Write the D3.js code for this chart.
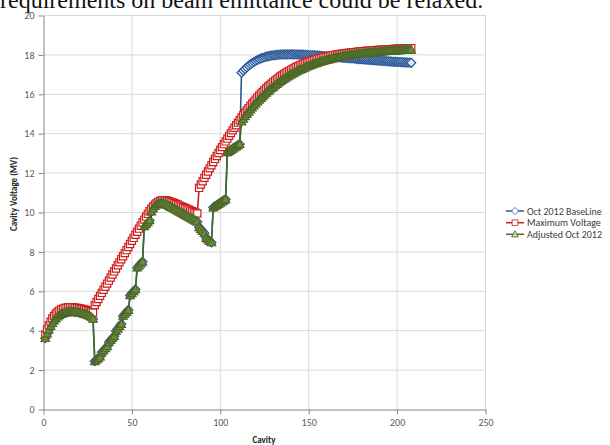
<!DOCTYPE html>
<html>
<head>
<meta charset="utf-8">
<script src="https://cdn.jsdelivr.net/npm/d3@7"></script>
<style>
  body { margin: 0; background: #fff; }
  svg { display: block; }
</style>
</head>
<body>
<div id="viz"></div>
<script>
// cavity index along the linac
var cavity = d3.range(1, 209);

// Maximum Voltage (MV), cavities 1..208
var maxVoltage = [
  3.80, 4.05, 4.27, 4.46, 4.62, 4.75, 4.86, 4.95, 5.02, 5.08,
  5.12, 5.15, 5.17, 5.18, 5.19, 5.19, 5.18, 5.17, 5.16, 5.14,
  5.12, 5.10, 5.08, 5.05, 5.02, 4.99, 4.96, 4.92,
  5.30, 5.46, 5.61, 5.77, 5.92, 6.08, 6.23, 6.39, 6.54, 6.70,
  6.85, 7.01, 7.16, 7.32, 7.47, 7.63, 7.78, 7.94, 8.09, 8.25,
  8.40, 8.56, 8.71, 8.87, 9.02, 9.18, 9.33, 9.49, 9.64, 9.79,
  9.93, 10.06, 10.18, 10.29, 10.39, 10.47, 10.54, 10.59, 10.62, 10.63,
  10.62, 10.60, 10.57, 10.54, 10.51, 10.47, 10.43, 10.39, 10.35, 10.31,
  10.27, 10.23, 10.19, 10.15, 10.11, 10.07, 10.03, 9.99, 9.95,
  11.25, 11.42, 11.59, 11.76, 11.92, 12.08, 12.24, 12.40, 12.56, 12.72,
  12.87, 13.02, 13.17, 13.32, 13.47, 13.61, 13.75, 13.89, 14.03, 14.17,
  14.30, 14.43, 14.56, 14.69, 14.82, 14.94, 15.06, 15.18, 15.30, 15.41,
  15.52, 15.63, 15.73, 15.83, 15.93, 16.03, 16.12, 16.21, 16.30, 16.38,
  16.46, 16.54, 16.62, 16.69, 16.76, 16.83, 16.90, 16.96, 17.02, 17.08,
  17.14, 17.19, 17.24, 17.29, 17.34, 17.39, 17.43, 17.47, 17.51, 17.55,
  17.59, 17.62, 17.65, 17.68, 17.71, 17.74, 17.77, 17.80, 17.82, 17.84,
  17.87, 17.89, 17.91, 17.93, 17.95, 17.97, 17.99, 18.00, 18.02, 18.03,
  18.05, 18.06, 18.07, 18.09, 18.10, 18.11, 18.12, 18.13, 18.14, 18.15,
  18.16, 18.17, 18.18, 18.19, 18.20, 18.20, 18.21, 18.22, 18.23, 18.23,
  18.24, 18.25, 18.25, 18.26, 18.27, 18.27, 18.28, 18.28, 18.29, 18.29,
  18.30, 18.30, 18.31, 18.31, 18.32, 18.32, 18.33, 18.33, 18.33, 18.34,
  18.34
];

// Adjusted Oct 2012 (MV), cavities 1..208
var adjusted = [
  3.62, 3.85, 4.05, 4.23, 4.38, 4.51, 4.62, 4.71, 4.78, 4.84,
  4.88, 4.92, 4.94, 4.96, 4.97, 4.97, 4.97, 4.96, 4.95, 4.93,
  4.91, 4.89, 4.86, 4.83, 4.79, 4.75, 4.70, 4.60,
  2.45, 2.52, 2.60, 2.68, 2.90, 3.00, 3.10, 3.20, 3.42, 3.52,
  3.62, 3.72, 3.98, 4.10, 4.22, 4.34, 4.75, 4.85, 4.95, 5.05,
  5.80, 5.90, 6.00, 6.10, 7.20, 7.30, 7.40, 7.50, 9.30, 9.40,
  9.50, 9.60,
  10.05, 10.20, 10.32, 10.40, 10.45, 10.47, 10.47, 10.45, 10.42, 10.38,
  10.33, 10.28, 10.23, 10.18, 10.13, 10.08, 10.03, 9.98, 9.93, 9.88,
  9.83, 9.78, 9.73, 9.68, 9.63, 9.58, 9.53,
  9.25, 9.15, 9.05, 8.95, 8.70, 8.62, 8.55, 8.48,
  10.25, 10.31, 10.37, 10.43, 10.49, 10.55, 10.61, 10.67,
  13.05, 13.11, 13.17, 13.23, 13.29, 13.35, 13.41, 13.47,
  14.62, 14.75, 14.88, 15.00, 15.11, 15.22, 15.33, 15.43, 15.53, 15.63,
  15.72, 15.81, 15.90, 15.99, 16.07, 16.15, 16.23, 16.31, 16.38, 16.45,
  16.52, 16.59, 16.66, 16.72, 16.78, 16.84, 16.90, 16.95, 17.00, 17.05,
  17.10, 17.15, 17.20, 17.24, 17.28, 17.32, 17.36, 17.40, 17.44, 17.47,
  17.51, 17.54, 17.57, 17.60, 17.63, 17.66, 17.69, 17.71, 17.74, 17.76,
  17.78, 17.81, 17.83, 17.85, 17.87, 17.89, 17.91, 17.92, 17.94, 17.96,
  17.97, 17.99, 18.00, 18.01, 18.03, 18.04, 18.05, 18.06, 18.07, 18.08,
  18.09, 18.10, 18.11, 18.12, 18.13, 18.14, 18.14, 18.15, 18.16, 18.17,
  18.17, 18.18, 18.19, 18.19, 18.20, 18.21, 18.21, 18.22, 18.22, 18.23,
  18.23, 18.24, 18.24, 18.25, 18.25, 18.26, 18.26
];

// Oct 2012 BaseLine: same as adjusted up to cavity 111, then these (112..208)
var baselineTail = [
  17.10, 17.20, 17.29, 17.37, 17.45, 17.52, 17.58, 17.64, 17.69, 17.74,
  17.78, 17.82, 17.85, 17.88, 17.91, 17.93, 17.95, 17.97, 17.98, 17.99,
  18.00, 18.01, 18.02, 18.02, 18.03, 18.03, 18.03, 18.03, 18.03, 18.03,
  18.03, 18.02, 18.02, 18.02, 18.01, 18.01, 18.00, 18.00, 17.99, 17.99,
  17.98, 17.98, 17.97, 17.96, 17.96, 17.95, 17.94, 17.94, 17.93, 17.92,
  17.91, 17.91, 17.90, 17.89, 17.88, 17.88, 17.87, 17.86, 17.85, 17.85,
  17.84, 17.83, 17.82, 17.82, 17.81, 17.80, 17.79, 17.79, 17.78, 17.77,
  17.76, 17.76, 17.75, 17.74, 17.73, 17.73, 17.72, 17.71, 17.71, 17.70,
  17.69, 17.69, 17.68, 17.67, 17.67, 17.66, 17.65, 17.65, 17.64, 17.64,
  17.63, 17.63, 17.62, 17.62, 17.61, 17.61, 17.60
];
var baseline = adjusted.slice(0, 111).concat(baselineTail);

var xTicks = [0, 50, 100, 150, 200, 250];
var yTicks = [0, 2, 4, 6, 8, 10, 12, 14, 16, 18, 20];

var series = [
  {name: 'Oct 2012 BaseLine', values: baseline, color: '#2a5896', fill: '#dfe8f4', shape: 'diamond'},
  {name: 'Maximum Voltage', values: maxVoltage, color: '#d01c1c', fill: '#fff', shape: 'square'},
  {name: 'Adjusted Oct 2012', values: adjusted, color: '#4c6626', fill: '#6e8c3e', shape: 'triangle'}
];

var width = 610, height = 445;
var font = 'Carlito, Lato, "Open Sans", sans-serif';

var svg = d3
.select('#viz')
.append('svg')
.attr('width', width)
.attr('height', height)
;

var x = d3.scaleLinear().domain([0, 250]).range([43.5, 485.5]);
var y = d3.scaleLinear().domain([0, 20]).range([409.5, 15.5]);

// text from the page above the chart, cut by the crop
svg
.append('text')
.text('requirements on beam emittance could be relaxed.')
.attr('x', 0)
.attr('y', 8)
.attr('font-family', '"Liberation Serif", "Times New Roman", serif')
.attr('font-size', '24px')
.attr('fill', '#111')
;

// gridlines
svg.append('g')
.selectAll('line')
.data(yTicks.slice(1))
.join('line')
.attr('x1', x(0)).attr('x2', x(250))
.attr('y1', d => y(d)).attr('y2', d => y(d))
.attr('stroke', '#d9d9d9')
;

svg.append('g')
.selectAll('line')
.data(xTicks.slice(1))
.join('line')
.attr('x1', d => x(d)).attr('x2', d => x(d))
.attr('y1', y(0)).attr('y2', y(20))
.attr('stroke', '#d9d9d9')
;

// axes
var yAxis = svg.append('g')
.attr('transform', 'translate(' + x(0) + ',0)')
.call(d3.axisLeft(y).tickValues(yTicks).tickSize(5).tickPadding(4).tickSizeOuter(0))
;
var xAxis = svg.append('g')
.attr('transform', 'translate(0,' + y(0) + ')')
.call(d3.axisBottom(x).tickValues(xTicks).tickSize(5).tickPadding(4).tickSizeOuter(0))
;
[xAxis, yAxis].forEach(function(a) {
  a.select('.domain').attr('stroke', '#868686');
  a.selectAll('.tick line').attr('stroke', '#868686');
  a.selectAll('.tick text')
  .attr('fill', '#595959')
  .attr('font-family', font)
  .attr('font-size', '10px');
});

// axis titles
svg
.append('text')
.text('Cavity')
.attr('x', 264)
.attr('y', 443)
.attr('text-anchor', 'middle')
.attr('font-family', font)
.attr('font-size', '9px')
.attr('font-weight', 'bold')
.attr('fill', '#222')
;

svg
.append('text')
.text('Cavity Voltage (MV)')
.attr('transform', 'translate(17,194) rotate(-90)')
.attr('text-anchor', 'middle')
.attr('font-family', font)
.attr('font-size', '9px')
.attr('font-weight', 'bold')
.attr('fill', '#222')
;

// marker shapes
function markerPath(shape) {
  if (shape === 'diamond') return 'M0,-4.5L4.5,0L0,4.5L-4.5,0Z';
  if (shape === 'square') return 'M-3.6,-3.6H3.6V3.6H-3.6Z';
  return 'M0,-4.5L4.2,3.3L-4.2,3.3Z';
}

var line = d3.line()
.x((d, i) => x(cavity[i]))
.y(d => y(d))
;

series.forEach(function(s) {
  var g = svg.append('g');
  g.append('path')
  .attr('d', line(s.values))
  .attr('fill', 'none')
  .attr('stroke', s.color)
  .attr('stroke-width', 1.6)
  ;
  g.selectAll('path.mk')
  .data(s.values)
  .join('path')
  .attr('class', 'mk')
  .attr('d', markerPath(s.shape))
  .attr('transform', (d, i) => 'translate(' + x(cavity[i]) + ',' + y(d) + ')')
  .attr('fill', s.fill)
  .attr('stroke', s.color)
  .attr('stroke-width', 1.2)
  ;
});

// legend
var legend = svg.append('g')
.selectAll('g')
.data(series)
.join('g')
.attr('transform', (d, i) => 'translate(506,' + [211, 222.7, 234.3][i] + ')')
;

legend.append('line')
.attr('x1', 0).attr('x2', 18)
.attr('stroke', d => d.color)
.attr('stroke-width', 1.5)
;
legend.append('path')
.attr('d', d => markerPath(d.shape))
.attr('transform', 'translate(9,0) scale(0.8)')
.attr('fill', d => d.shape === 'triangle' ? '#c9dca6' : '#fff')
.attr('stroke', d => d.color)
.attr('stroke-width', 1)
;
legend.append('text')
.text(d => d.name)
.attr('x', 21)
.attr('dy', '0.35em')
.attr('font-family', font)
.attr('font-size', '10px')
.attr('fill', '#404040')
;
</script>
</body>
</html>
